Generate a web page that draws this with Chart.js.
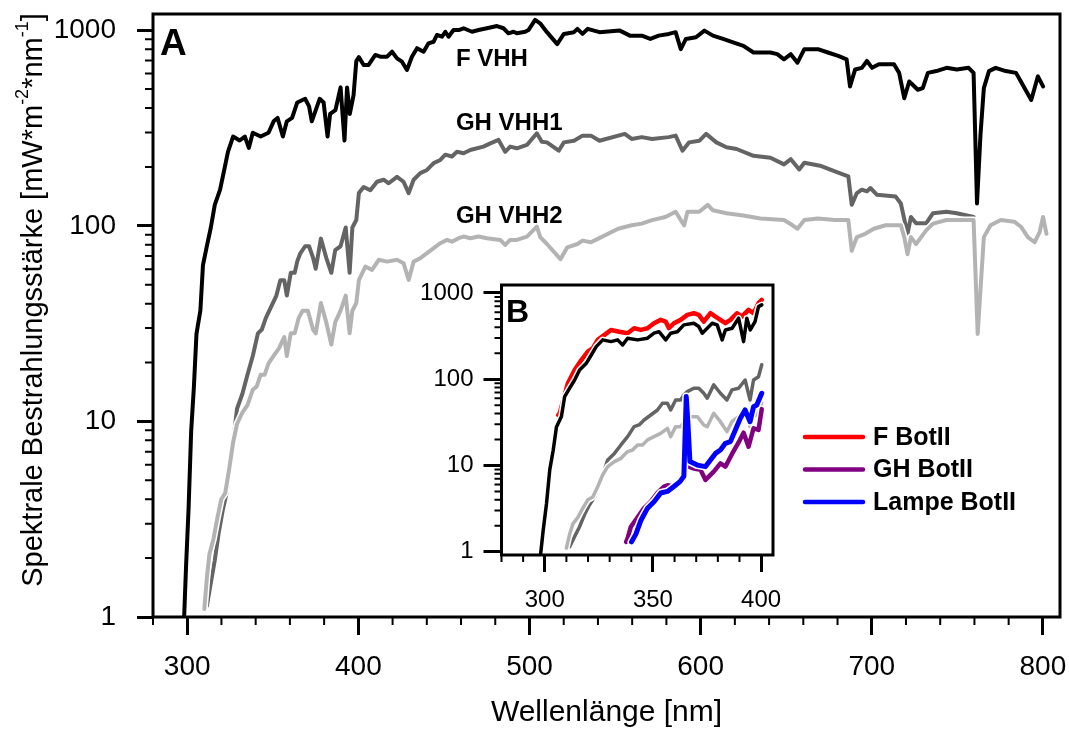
<!DOCTYPE html>
<html>
<head>
<meta charset="utf-8">
<script src="https://cdn.jsdelivr.net/npm/chart.js@4"></script>
<style>
  html, body { margin: 0; padding: 0; background: #fff; }
  #wrap { position: relative; width: 1069px; height: 731px; }
  #wrap canvas { position: absolute; left: 0; top: 0; }
</style>
</head>
<body>
<div id="wrap">
  <canvas id="mainChart" width="1069" height="731"></canvas>
  <canvas id="insetChart" width="1069" height="731"></canvas>
</div>
<script>
const FONT = '"Liberation Sans", Arial, Helvetica, sans-serif';

// F VHH (black)
const fVhhWl = [298, 299.3, 300.8, 302.3, 303.9, 305.4, 307.7, 309.2, 311.5, 313.8, 316.1, 319.2, 321.5, 323.8, 326.8, 330.6, 333.7, 336, 338.3, 342.9,
  347.5, 350.5, 352.8, 355.9, 358.2, 361.3, 364.3, 368.9, 371.2, 372.8, 375.1, 377.4, 379.7, 382, 383.5, 386.6, 389.6, 391.9, 393.4, 395,
  397.2, 398.8, 400.3, 403.1, 406, 409.9, 412.8, 416.8, 419.7, 422.6, 425.5, 428.4, 431.3, 434.3, 438.1, 441, 444, 445.9, 448.9, 450.8,
  452.7, 455.6, 458.6, 461.5, 466.4, 470.2, 475.1, 481, 484.8, 487.7, 490.7, 492.6, 497.5, 499.4, 503.3, 506.2, 510.2, 516.2, 520.1, 526,
  528, 531, 534, 540.9, 552.8, 558.7, 565.6, 570.6, 575.5, 581.4, 585.4, 588.4, 591.4, 597.3, 602.2, 607.2, 613.1, 619, 625, 630.9,
  640.8, 644.8, 648.7, 652.7, 656.6, 660.6, 668.5, 674.4, 680.4, 685.3, 687.3, 690.3, 694.2, 697.2, 700.2, 704.1, 713, 716, 719, 721.9,
  723.9, 726.9, 729.8, 732.8, 737.8, 743.7, 749.7, 756.6, 759.5, 761.5, 763.5, 765.5, 768.5, 772.4, 778.3, 784.3, 788.2, 793.2, 797.1, 800.1];
const fVhhVal = [0.9, 1.8, 3.6, 8.9, 15, 28, 37, 63, 79, 98, 128, 153, 191, 239, 286, 273, 286, 250, 299, 286,
  299, 342, 356, 286, 342, 356, 427, 446, 408, 342, 390, 446, 427, 286, 373, 390, 510, 273, 510, 373,
  466, 695, 728, 664, 664, 747, 732, 732, 776, 718, 690, 626, 732, 809, 776, 857, 873, 945, 926, 982,
  926, 1002, 1002, 1023, 982, 1002, 1023, 1050, 1023, 964, 982, 964, 982, 1002, 1128, 1084, 977, 849, 957, 977,
  1016, 957, 1016, 977, 995, 938, 938, 902, 938, 957, 977, 800, 902, 920, 995, 938, 902, 866, 832, 769,
  769, 754, 710, 754, 682, 800, 800, 769, 739, 710, 516, 630, 642, 696, 642, 669, 669, 605, 449, 547,
  526, 496, 506, 605, 618, 642, 630, 642, 605, 130, 289, 506, 618, 642, 618, 605, 526, 440, 581, 516];

// GH VHH1 (dark grey)
const gh1Wl = [311.5, 313.8, 316.1, 318.4, 320.7, 323, 325.3, 327.6, 329.1, 332.2, 335.2, 338.3, 341.3, 343.6, 345.9, 349, 352.1, 354.4, 356.7, 358.2,
  360.5, 362.8, 364.3, 365.9, 368.9, 371.2, 373.5, 375.1, 378.1, 381.2, 384.2, 386.5, 389.6, 392.6, 394.9, 396.5, 398.8, 400.3, 403.1, 407,
  410.9, 414.8, 417.7, 422.6, 426.4, 429.4, 432.3, 436.2, 440.1, 444, 447.9, 450.8, 454.7, 457.6, 461.5, 465.4, 473.1, 477.1, 481.9, 485.8,
  488.7, 492.6, 498.5, 504.3, 507.2, 510.2, 517.1, 520.1, 526, 531, 535.9, 540.9, 555.7, 559.7, 565.6, 571.6, 581.4, 585.4, 589.4, 593.3,
  599.2, 603.2, 609.2, 615.1, 621, 630.9, 640.8, 648.7, 652.7, 657.6, 660.6, 670.5, 680.4, 686.3, 688.3, 691.3, 694.2, 697.2, 699.2, 703.1,
  714, 717, 720.9, 722.9, 725.9, 731.8, 735.8, 743.7, 749.7, 759.5];
const gh1Val = [1.14, 1.5, 1.95, 2.7, 3.5, 4.3, 6.2, 8.9, 11.6, 13.8, 17.3, 21.6, 28.2, 29.5, 33.7, 38.5, 44, 52.7, 52.7, 44,
  57.5, 57.5, 65.8, 71.8, 78.6, 78.6, 68.8, 60.3, 86, 68.8, 57.5, 75.2, 78.6, 98, 57.5, 98, 107, 147, 158, 152,
  168, 172, 165, 178, 168, 147, 172, 186, 193, 209, 217, 231, 226, 239, 235, 244, 254, 264, 275, 239,
  254, 249, 259, 297, 269, 267, 242, 267, 272, 289, 289, 272, 295, 278, 284, 278, 284, 289, 242, 267,
  272, 295, 267, 252, 247, 228, 223, 206, 219, 194, 210, 202, 187, 179, 128, 147, 153, 150, 156, 144,
  141, 130, 91, 111, 103, 103, 116, 118, 116, 111];

// GH VHH2 (light grey)
const gh2Wl = [310, 311.5, 313, 315.3, 317.6, 319.9, 322.2, 324.5, 326.8, 329.1, 332.2, 335.2, 338.3, 340.6, 342.9, 345.2, 347.5, 350.5, 353.6, 356.7,
  358.2, 360.5, 362.8, 365.1, 367.4, 370.5, 373.5, 375.1, 378.1, 381.2, 384.2, 386.5, 389.6, 392.6, 394.9, 396.5, 398.8, 400.3, 404.1, 408,
  411.9, 416.8, 422.6, 426.4, 429.4, 432.3, 436.2, 440.1, 444, 447.9, 451.8, 454.7, 458.6, 461.5, 465.4, 470.2, 475.1, 482.9, 485.8, 488.7,
  492.6, 498.5, 504.3, 506.3, 510.2, 518.1, 522.1, 528, 531, 535.9, 539.9, 551.8, 559.7, 565.6, 571.6, 579.4, 585.4, 588.4, 590.4, 592.3,
  599.2, 604.2, 607.2, 615.1, 625, 634.9, 648.7, 653.7, 656.6, 660.6, 668.5, 678.4, 686.3, 688.3, 691.3, 696.2, 701.2, 708.1, 717, 719,
  720.9, 722.9, 725.9, 731.8, 735.8, 743.7, 759.5, 761.9, 765.5, 769.4, 775.4, 783.3, 787.3, 791.2, 795.2, 798.1, 800.1, 802.1];
const gh2Val = [1.1, 1.6, 2.1, 2.5, 3.2, 4, 4.3, 5.7, 7.8, 9.7, 11.1, 12.1, 14.5, 15.1, 17.3, 17.3, 19.8, 21.6, 23.6, 27,
  21.6, 28.2, 28.2, 33.7, 36.8, 36.8, 29.5, 28.2, 40.3, 32.2, 24.7, 32.2, 36.8, 44, 28.2, 36.8, 40.3, 52.7, 61.9, 59.5,
  67, 65.6, 67, 64.4, 52.9, 65.6, 68.3, 72.4, 76.9, 81.5, 84.7, 83, 86.4, 88.1, 86.4, 88.1, 86.4, 84.7, 79.8, 84.7,
  84.7, 88.1, 99, 87.5, 80.7, 67.5, 77.6, 80.7, 84, 82.4, 85.7, 96.6, 100.6, 102.6, 106.9, 111, 118, 107, 100.6, 118,
  118, 128, 120, 116, 113, 109, 107, 100.6, 96.6, 107, 109, 107, 107, 74.6, 87.5, 91, 96.6, 100.6, 100.6, 87.5,
  71.6, 87.5, 80.7, 94.7, 102.6, 107, 107, 28, 87.5, 100.6, 107, 105, 98.6, 87.5, 82.4, 92.9, 111, 91];

// inset only: F BotII, GH BotII, Lampe BotII
const fBotWl = [306.2, 306.9, 310.7, 313.8, 316.9, 319.9, 322.2, 324.5, 327.6, 330.6, 334.5, 338.3, 341.3, 344.4, 347.5, 350.5, 353.6, 355.9, 357.4, 359.7,
  362.8, 365.9, 368.9, 371.2, 373.5, 376.6, 378.9, 381.2, 383.5, 385.8, 388.8, 391.1, 394.2, 396.5, 398.8, 400.3];
const fBotVal = [38.5, 40.3, 90, 128, 167, 209, 229, 286, 327, 373, 356, 342, 390, 373, 390, 446, 488, 466, 390, 446,
  488, 557, 583, 557, 466, 583, 532, 488, 446, 488, 583, 532, 637, 583, 762, 832];
const ghBotWl = [337.6, 338.3, 339.8, 342.9, 345.9, 349, 352.1, 355.1, 356.7, 359.7, 362.5, 364.3, 365.4, 366.6, 369, 372, 374.3, 378.1, 381.2, 383.5,
  386.5, 389.6, 391.9, 394.2, 396.5, 398.8, 400.3];
const ghBotVal = [1.3, 1.43, 1.95, 2.5, 3.2, 3.8, 4.8, 5.7, 5.9, 5.7, 6.3, 7, 10.5, 9.7, 9.2, 8.9, 6.8, 8.5, 10.6, 9.7,
  13.5, 18.5, 24, 16.5, 27, 25.8, 45];
const lampWl = [340.1, 342.1, 344.4, 347.5, 350.5, 353.6, 356.7, 359.7, 362.5, 364.3, 365.4, 366.2, 367.1, 370.5, 374.3, 376.6, 378.9, 381.2, 383.5, 385.8,
  388.1, 390.4, 392.6, 394.9, 396.5, 398, 400.3];
const lampVal = [1.3, 1.6, 2.3, 3.2, 3.8, 4.8, 5, 5.7, 6.5, 7.5, 63, 30, 11.1, 10.1, 9.7, 11.6, 13.8, 15.1, 18.1, 18.9,
  25.8, 35.3, 44, 32.2, 48, 50.3, 68.8];

// axes
const xMajor = [300, 400, 500, 600, 700, 800];
const yMajor = [1, 10, 100, 1000];
const insetXMajor = [300, 350, 400];

// curve names written inside panel A (wavelength, value of text baseline start)
const curveLabelText = ["F VHH", "GH VHH1", "GH VHH2"];
const curveLabelWl = [457, 457, 457];
const curveLabelVal = [659, 309, 103.5];

const xMinor = [];
for (let v = 280; v <= 800; v += 20) if (v % 100 !== 0) xMinor.push(v);
const insetXMinor = [];
for (let v = 280; v <= 400; v += 10) if (v % 50 !== 0) insetXMinor.push(v);
function logMinor(max) {
  const out = [];
  for (let d = 1; d <= 1000; d *= 10)
    for (let k = 2; k <= 9; k++) if (k * d <= max) out.push(k * d);
  return out;
}

function pts(wl, val, maxWl) {
  return wl.map((x, i) => ({ x: x, y: val[i] })).filter(p => p.x <= maxWl);
}

function line(label, wl, val, color, width, maxWl, extra) {
  return Object.assign({
    label: label,
    data: pts(wl, val, maxWl),
    borderColor: color,
    backgroundColor: color,
    borderWidth: width,
    pointRadius: 0,
    tension: 0,
    fill: false,
    borderJoinStyle: 'round',
    borderCapStyle: 'round',
    clip: 0
  }, extra || {});
}

// white outline under every curve, as in the original plot
const haloPlugin = {
  id: 'halo',
  beforeDatasetDraw(chart, args) {
    const p = args.meta.data;
    if (!p.length) return;
    const a = chart.chartArea, ctx = chart.ctx;
    ctx.save();
    ctx.beginPath();
    ctx.rect(a.left, a.top, a.right - a.left, a.bottom - a.top);
    ctx.clip();
    ctx.beginPath();
    p.forEach((q, i) => i ? ctx.lineTo(q.x, q.y) : ctx.moveTo(q.x, q.y));
    ctx.strokeStyle = '#fff';
    ctx.lineWidth = chart.data.datasets[args.index].borderWidth + 3;
    ctx.lineJoin = 'round';
    ctx.lineCap = 'round';
    ctx.stroke();
    ctx.restore();
  }
};

// stop chart.js from reserving extra room for the edge labels
function fixSize(prop, size) {
  return s => {
    s[prop] = size;
    s.paddingLeft = s.paddingRight = s.paddingTop = s.paddingBottom = 0;
  };
}

function decor(id, xm, ym, minorLen, fillArea, extra) {
  return {
    id: id,
    beforeDraw(chart) {
      if (!fillArea) return;
      const a = chart.chartArea;
      chart.ctx.save();
      chart.ctx.fillStyle = '#fff';
      chart.ctx.fillRect(a.left, a.top, a.right - a.left, a.bottom - a.top);
      chart.ctx.restore();
    },
    afterDraw(chart) {
      const ctx = chart.ctx, a = chart.chartArea;
      const x = chart.scales.x, y = chart.scales.y;
      ctx.save();
      ctx.strokeStyle = '#000';
      ctx.lineWidth = 2;
      ctx.beginPath();
      xm.forEach(v => {
        const px = x.getPixelForValue(v);
        ctx.moveTo(px, a.bottom);
        ctx.lineTo(px, a.bottom + minorLen);
      });
      ym.forEach(v => {
        const py = y.getPixelForValue(v);
        ctx.moveTo(a.left - minorLen, py);
        ctx.lineTo(a.left, py);
      });
      ctx.stroke();
      ctx.lineWidth = 3;
      ctx.strokeRect(a.left, a.top, a.right - a.left, a.bottom - a.top);
      ctx.restore();
      if (extra) extra(chart);
    }
  };
}

function mainExtra(chart) {
  const ctx = chart.ctx, x = chart.scales.x, y = chart.scales.y;
  ctx.save();
  ctx.fillStyle = '#000';
  ctx.textBaseline = 'alphabetic';
  ctx.textAlign = 'left';
  ctx.font = 'bold 24px ' + FONT;
  curveLabelText.forEach((t, i) => {
    ctx.fillText(t, x.getPixelForValue(curveLabelWl[i]), y.getPixelForValue(curveLabelVal[i]));
  });
  ctx.font = 'bold 37px ' + FONT;
  ctx.fillText('A', 160, 55);

  // y axis title with superscripts
  const parts = [
    ['Spektrale Bestrahlungsstärke [mW*m', false],
    ['-2', true],
    ['*nm', false],
    ['-1', true],
    [']', false]
  ];
  const big = '29px ' + FONT, small = '18px ' + FONT;
  let total = 0;
  parts.forEach(p => { ctx.font = p[1] ? small : big; total += ctx.measureText(p[0]).width; });
  ctx.translate(34, 300);
  ctx.rotate(-Math.PI / 2);
  ctx.textBaseline = 'middle';
  let cx = -total / 2;
  parts.forEach(p => {
    ctx.font = p[1] ? small : big;
    ctx.fillText(p[0], cx, p[1] ? -11 : 0);
    cx += ctx.measureText(p[0]).width;
  });
  ctx.restore();
}

function insetExtra(chart) {
  const ctx = chart.ctx;
  ctx.save();
  ctx.fillStyle = '#000';
  ctx.textAlign = 'left';
  ctx.textBaseline = 'alphabetic';
  ctx.font = 'bold 32px ' + FONT;
  ctx.fillText('B', 506, 322);
  // legend, in the order given by legendPos
  const items = chart.data.datasets.filter(d => d.legendPos !== undefined)
    .sort((a, b) => a.legendPos - b.legendPos);
  ctx.font = 'bold 25px ' + FONT;
  ctx.textBaseline = 'middle';
  items.forEach((d, i) => {
    const ly = 437 + i * 32.5;
    ctx.strokeStyle = d.borderColor;
    ctx.lineWidth = 4.5;
    ctx.lineCap = 'round';
    ctx.beginPath();
    ctx.moveTo(805, ly);
    ctx.lineTo(863, ly);
    ctx.stroke();
    ctx.fillText(d.label, 873, ly + 1);
  });
  ctx.restore();
}

const tickFont = size => ({ size: size, family: FONT });

new Chart(document.getElementById('mainChart'), {
  type: 'line',
  data: {
    datasets: [
      line('F VHH', fVhhWl, fVhhVal, '#000000', 4, 900),
      line('GH VHH2', gh2Wl, gh2Val, '#b3b3b3', 4, 900),
      line('GH VHH1', gh1Wl, gh1Val, '#646464', 4, 900)
    ]
  },
  options: {
    responsive: false,
    devicePixelRatio: 1,
    animation: false,
    events: [],
    layout: { padding: { left: 0, top: 14, right: 9, bottom: 0 } },
    plugins: { legend: { display: false }, tooltip: { enabled: false } },
    scales: {
      x: {
        type: 'linear', min: 280, max: 810,
        afterBuildTicks: s => { s.ticks = xMajor.map(v => ({ value: v })); },
        afterFit: fixSize('height', 114),
        ticks: { font: tickFont(28), color: '#000', padding: 15, maxRotation: 0, autoSkip: false, callback: v => String(v) },
        grid: { drawOnChartArea: false, drawTicks: true, tickLength: 18, tickWidth: 3, tickColor: '#000' },
        border: { display: false },
        title: { display: true, text: 'Wellenlänge [nm]', font: { size: 30, family: FONT }, color: '#000', padding: 0 }
      },
      y: {
        type: 'logarithmic', min: 1, max: 1210,
        afterBuildTicks: s => { s.ticks = yMajor.map(v => ({ value: v })); },
        afterFit: fixSize('width', 153),
        ticks: { font: tickFont(28), color: '#000', padding: 21, autoSkip: false, callback: v => String(v) },
        grid: { drawOnChartArea: false, drawTicks: true, tickLength: 16, tickWidth: 3, tickColor: '#000' },
        border: { display: false }
      }
    }
  },
  plugins: [haloPlugin, decor('mainDecor', xMinor, logMinor(1210), 8, false, mainExtra)]
});

new Chart(document.getElementById('insetChart'), {
  type: 'line',
  data: {
    datasets: [
      line('F VHH', fVhhWl, fVhhVal, '#000000', 3.5, 400.5),
      line('F BotII', fBotWl, fBotVal, '#ff0000', 4.5, 400.5, { legendPos: 0 }),
      line('Lampe BotII', lampWl, lampVal, '#0000ff', 5, 400.5, { legendPos: 2 }),
      line('GH BotII', ghBotWl, ghBotVal, '#800080', 4.5, 400.5, { legendPos: 1 }),
      line('GH VHH2', gh2Wl, gh2Val, '#b3b3b3', 3.5, 400.5),
      line('GH VHH1', gh1Wl, gh1Val, '#646464', 3.5, 400.5)
    ]
  },
  options: {
    responsive: false,
    devicePixelRatio: 1,
    animation: false,
    events: [],
    layout: { padding: { left: 401.5, top: 285, right: 296, bottom: 116 } },
    plugins: { legend: { display: false }, tooltip: { enabled: false } },
    scales: {
      x: {
        type: 'linear', min: 280, max: 405.5,
        afterBuildTicks: s => { s.ticks = insetXMajor.map(v => ({ value: v })); },
        afterFit: fixSize('height', 60),
        ticks: { font: tickFont(24), color: '#000', padding: 14, maxRotation: 0, autoSkip: false, callback: v => String(v) },
        grid: { drawOnChartArea: false, drawTicks: true, tickLength: 17, tickWidth: 3, tickColor: '#000' },
        border: { display: false }
      },
      y: {
        type: 'logarithmic', min: 0.916, max: 1238,
        afterBuildTicks: s => { s.ticks = yMajor.map(v => ({ value: v })); },
        afterFit: fixSize('width', 100),
        ticks: { font: tickFont(24), color: '#000', padding: 10, autoSkip: false, callback: v => String(v) },
        grid: { drawOnChartArea: false, drawTicks: true, tickLength: 18, tickWidth: 3, tickColor: '#000' },
        border: { display: false }
      }
    }
  },
  plugins: [haloPlugin, decor('insetDecor', insetXMinor, logMinor(1238), 7, true, insetExtra)]
});
</script>
</body>
</html>
